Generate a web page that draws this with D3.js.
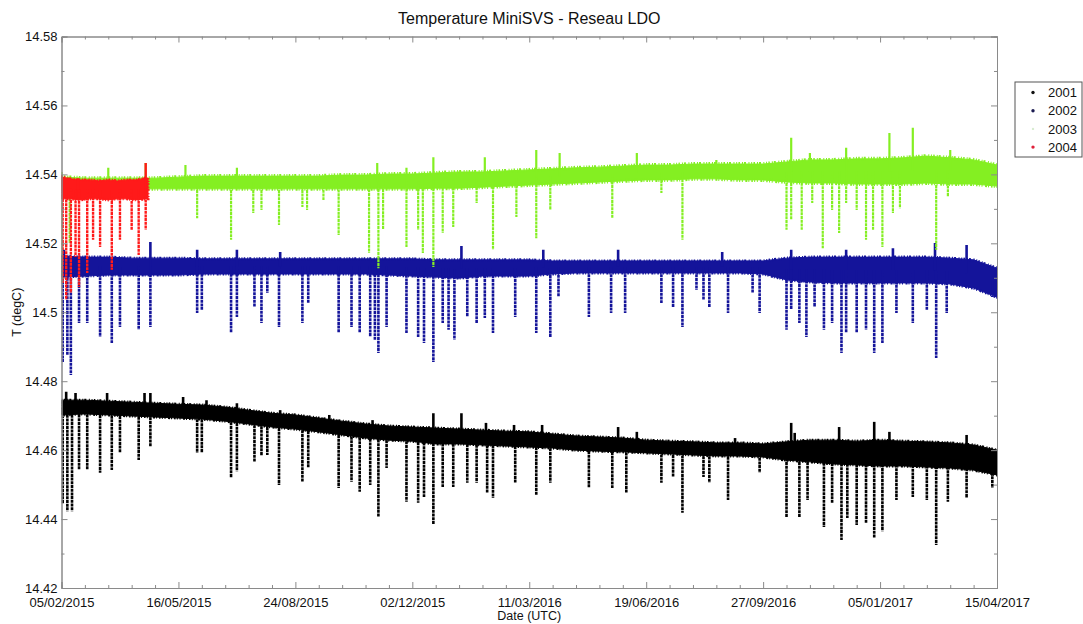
<!DOCTYPE html>
<html><head><meta charset="utf-8">
<script src="https://cdn.jsdelivr.net/npm/d3@7"></script>
<style>
body{margin:0;background:#fff}
svg{display:block}
text{font-family:"Liberation Sans",Arial,Helvetica,sans-serif}
</style>
</head><body>
<svg id="chart" width="1083" height="624"></svg>
<script>
// ---------------- data ----------------
const startDate = "05/02/2015";
const xTickLabels = ["05/02/2015","16/05/2015","24/08/2015","02/12/2015","11/03/2016","19/06/2016","27/09/2016","05/01/2017","15/04/2017"];
const yTickValues = [14.42,14.44,14.46,14.48,14.50,14.52,14.54,14.56,14.58];
const seriesNames = ["2001","2002","2003","2004"];
const seriesColors = ["#000000","#14149a","#84ef22","#ff1a1a"];

// days since 05/02/2015 at which the band envelope was read
const envelopeDays = [0,20,40,60,80,100,120,140,160,180,200,220,240,260,280,300,320,340,360,380,400,420,440,460,480,500,520,540,560,580,600,620,640,660,680,700,720,740,760,780,800];

// 2001 band (upper / lower edge, degC)
const upper2001 = [14.4745,14.4745,14.4742,14.4739,14.4736,14.4733,14.4731,14.4725,14.4716,14.4707,14.4702,14.4693,14.4684,14.4676,14.4670,14.4667,14.4664,14.4661,14.4658,14.4655,14.4653,14.4647,14.4641,14.4638,14.4635,14.4629,14.4626,14.4624,14.4621,14.4621,14.4618,14.4624,14.4629,14.4629,14.4626,14.4629,14.4626,14.4624,14.4621,14.4615,14.4600];
const lower2001 = [14.4702,14.4705,14.4702,14.4699,14.4696,14.4693,14.4690,14.4684,14.4676,14.4667,14.4661,14.4653,14.4644,14.4635,14.4629,14.4626,14.4618,14.4618,14.4615,14.4612,14.4609,14.4606,14.4600,14.4597,14.4595,14.4592,14.4589,14.4586,14.4583,14.4583,14.4580,14.4571,14.4566,14.4560,14.4557,14.4554,14.4554,14.4551,14.4548,14.4542,14.4528];
// 2002 band
const upper2002 = [14.5163,14.5160,14.5160,14.5157,14.5157,14.5157,14.5155,14.5155,14.5155,14.5155,14.5155,14.5155,14.5155,14.5155,14.5155,14.5155,14.5152,14.5152,14.5152,14.5152,14.5152,14.5149,14.5149,14.5149,14.5149,14.5149,14.5149,14.5149,14.5149,14.5149,14.5149,14.5157,14.5160,14.5160,14.5160,14.5160,14.5160,14.5160,14.5157,14.5152,14.5128];
const lower2002 = [14.5102,14.5105,14.5108,14.5108,14.5108,14.5108,14.5111,14.5111,14.5111,14.5111,14.5111,14.5111,14.5111,14.5111,14.5108,14.5105,14.5102,14.5099,14.5105,14.5105,14.5105,14.5111,14.5114,14.5114,14.5114,14.5114,14.5114,14.5114,14.5114,14.5114,14.5111,14.5094,14.5088,14.5085,14.5085,14.5085,14.5085,14.5085,14.5082,14.5070,14.5044];
// 2003 band
const upper2003 = [14.5392,14.5389,14.5389,14.5389,14.5389,14.5392,14.5395,14.5395,14.5395,14.5395,14.5395,14.5395,14.5398,14.5398,14.5401,14.5401,14.5404,14.5407,14.5407,14.5410,14.5413,14.5416,14.5419,14.5421,14.5424,14.5427,14.5427,14.5430,14.5430,14.5430,14.5430,14.5436,14.5442,14.5442,14.5445,14.5445,14.5448,14.5453,14.5448,14.5442,14.5427];
const lower2003 = [14.5358,14.5358,14.5358,14.5358,14.5358,14.5358,14.5358,14.5358,14.5358,14.5358,14.5358,14.5358,14.5358,14.5358,14.5358,14.5358,14.5360,14.5360,14.5363,14.5366,14.5369,14.5372,14.5375,14.5378,14.5381,14.5384,14.5384,14.5387,14.5387,14.5384,14.5384,14.5378,14.5375,14.5375,14.5372,14.5372,14.5372,14.5375,14.5372,14.5372,14.5366];
// 2004 band (only the first weeks)
const envelopeDays2004 = [0,8,16,24,32,40,48,56,64,72,74];
const upper2004 = [14.5392,14.5387,14.5384,14.5384,14.5381,14.5384,14.5381,14.5384,14.5384,14.5389,14.5389];
const lower2004 = [14.5329,14.5329,14.5326,14.5329,14.5329,14.5326,14.5329,14.5329,14.5326,14.5329,14.5329];

// drops below the band: [day, lowest value]
const drops2001 = [[1,14.4444],[5,14.4423],[9,14.4423],[15,14.4542],[22,14.4542],[33,14.4534],[43,14.4542],[50,14.4592],[66,14.4571],[76,14.4609],[116,14.4592],[120,14.4592],[145,14.4519],[150,14.4539],[165,14.4566],[171,14.4583],[176,14.4586],[186,14.4499],[206,14.4508],[211,14.4548],[237,14.4490],[248,14.4508],[255,14.4479],[264,14.4499],[271,14.4406],[278,14.4548],[295,14.4450],[305,14.4447],[310,14.4464],[318,14.4386],[326,14.4493],[335,14.4493],[347,14.4505],[355,14.4505],[364,14.4476],[369,14.4461],[388,14.4505],[406,14.4470],[418,14.4505],[451,14.4490],[471,14.4490],[483,14.4476],[513,14.4505],[523,14.4522],[531,14.4418],[549,14.4522],[554,14.4505],[570,14.4455],[597,14.4534],[620,14.4406],[631,14.4406],[638,14.4455],[652,14.4377],[659,14.4447],[667,14.4339],[672,14.4403],[680,14.4383],[688,14.4389],[695,14.4345],[702,14.4365],[714,14.4455],[728,14.4464],[740,14.4455],[748,14.4325],[758,14.4450],[774,14.4461],[796,14.4490]];
const drops2002 = [[1,14.4856],[5,14.4876],[8,14.4818],[15,14.4969],[22,14.4969],[33,14.4928],[43,14.4911],[50,14.4957],[66,14.4949],[76,14.4957],[116,14.4998],[120,14.5007],[145,14.4940],[150,14.4986],[165,14.5015],[171,14.4969],[176,14.5056],[186,14.4957],[206,14.4969],[211,14.5027],[237,14.4940],[248,14.4957],[255,14.4940],[264,14.4928],[268,14.4920],[271,14.4882],[278,14.4957],[295,14.4940],[305,14.4928],[310,14.4911],[318,14.4856],[326,14.4969],[331,14.4949],[336,14.4920],[347,14.4986],[355,14.4969],[362,14.4983],[369,14.4940],[388,14.4986],[406,14.4940],[418,14.4928],[425,14.5044],[451,14.4986],[470,14.4998],[482,14.4998],[513,14.5027],[523,14.5015],[531,14.4957],[543,14.5065],[549,14.5036],[554,14.5015],[570,14.4998],[591,14.5056],[597,14.4998],[620,14.4949],[624,14.5007],[631,14.4969],[637,14.4928],[644,14.5015],[652,14.4949],[659,14.4969],[667,14.4882],[671,14.4940],[680,14.4940],[688,14.4949],[695,14.4882],[702,14.4911],[714,14.4998],[728,14.4969],[740,14.5007],[748,14.4867],[757,14.4998],[796,14.5044]];
const drops2003 = [[0,14.5088],[7,14.5201],[116,14.5273],[145,14.5210],[164,14.5288],[171,14.5297],[186,14.5253],[206,14.5305],[210,14.5297],[224,14.5326],[237,14.5224],[263,14.5172],[271,14.5128],[275,14.5239],[295,14.5189],[305,14.5239],[309,14.5172],[318,14.5131],[326,14.5230],[335,14.5247],[355,14.5317],[369,14.5181],[389,14.5276],[406,14.5215],[418,14.5297],[471,14.5273],[513,14.5346],[531,14.5210],[620,14.5239],[624,14.5268],[633,14.5239],[642,14.5317],[651,14.5186],[659,14.5297],[665,14.5230],[671,14.5317],[680,14.5297],[688,14.5210],[694,14.5239],[702,14.5189],[711,14.5288],[717,14.5302],[748,14.5181],[758,14.5334]];
const drops2004 = [[1,14.5085],[4,14.5036],[8,14.5056],[12,14.5160],[15,14.5073],[22,14.5114],[27,14.5210],[33,14.5189],[43,14.5123],[50,14.5210],[60,14.5239],[66,14.5166],[72,14.5239]];

// peaks above the band: [day, highest value]
const peaks2001 = [[4,14.4769],[12,14.4766],[39,14.4766],[71,14.4766],[76,14.4766],[104,14.4754],[124,14.4745],[150,14.4736],[187,14.4716],[229,14.4702],[266,14.4687],[318,14.4707],[342,14.4707],[363,14.4679],[387,14.4673],[411,14.4673],[476,14.4667],[492,14.4653],[576,14.4635],[624,14.4679],[627,14.4650],[665,14.4667],[695,14.4682],[708,14.4653],[774,14.4644]];
const peaks2002 = [[2,14.5181],[76,14.5204],[116,14.5181],[150,14.5181],[187,14.5175],[342,14.5192],[412,14.5181],[476,14.5181],[565,14.5175],[624,14.5181],[671,14.5181],[711,14.5186],[747,14.5201],[774,14.5195]];
const peaks2003 = [[0,14.5407],[40,14.5419],[72,14.5433],[106,14.5427],[150,14.5419],[270,14.5433],[295,14.5419],[318,14.5450],[362,14.5450],[406,14.5471],[426,14.5462],[492,14.5462],[560,14.5442],[624,14.5506],[640,14.5462],[671,14.5477],[708,14.5520],[728,14.5535],[760,14.5471]];
const peaks2004 = [[0,14.5398],[14,14.5389],[72,14.5433]];

// ---------------- drawing ----------------
const W = 1083, H = 624;
const plot = {left: 61.5, right: 997, top: 36.5, bottom: 588};
const parseD = d3.utcParse("%d/%m/%Y");
const fmtD = d3.utcFormat("%d/%m/%Y");
const t0 = parseD(startDate);
const dayDate = n => d3.utcDay.offset(t0, n);

const x = d3.scaleUtc().domain([parseD(xTickLabels[0]), parseD(xTickLabels[xTickLabels.length-1])]).range([plot.left, plot.right]);
const y = d3.scaleLinear().domain([yTickValues[0], yTickValues[yTickValues.length-1]]).range([plot.bottom, plot.top]);

const svg = d3.select("#chart");
svg.append("rect").attr("width", W).attr("height", H).attr("fill", "#fff");

svg.append("defs").append("clipPath").attr("id", "clip")
  .append("rect").attr("x", plot.left).attr("y", plot.top)
  .attr("width", plot.right - plot.left).attr("height", plot.bottom - plot.top);

const dataG = svg.append("g").attr("clip-path", "url(#clip)");

function drawSeries(color, days, upper, lower, drops, peaks, w, fuzz) {
  const g = dataG.append("g");
  const band = days.map((d, i) => ({date: dayDate(d), hi: upper[i], lo: lower[i]}));
  const area = d3.area().x(d => x(d.date)).y0(d => y(d.lo)).y1(d => y(d.hi));
  g.append("path").datum(band).attr("d", area)
    .attr("fill", color).attr("stroke", color).attr("stroke-width", 1);
  // dotted outline of the band to render its scattered-marker edge
  g.append("path").datum(band).attr("d", area)
    .attr("fill", "none").attr("stroke", color).attr("stroke-width", fuzz)
    .attr("stroke-dasharray", "1,1.3,1.5,2,1,1,2,2.5,1,1.7");
  const loAt = d3.scaleLinear().domain(days).range(lower).clamp(true);
  const hiAt = d3.scaleLinear().domain(days).range(upper).clamp(true);
  g.selectAll("line.drop").data(drops).join("line").attr("class", "drop")
    .attr("x1", d => x(dayDate(d[0]))).attr("x2", d => x(dayDate(d[0])))
    .attr("y1", d => y((loAt(d[0]) + hiAt(d[0])) / 2)).attr("y2", d => y(d[1]))
    .attr("stroke", color).attr("stroke-width", w).attr("stroke-dasharray", "3,0.7");
  g.selectAll("line.peak").data(peaks).join("line").attr("class", "peak")
    .attr("x1", d => x(dayDate(d[0]))).attr("x2", d => x(dayDate(d[0])))
    .attr("y1", d => y((loAt(d[0]) + hiAt(d[0])) / 2)).attr("y2", d => y(d[1]))
    .attr("stroke", color).attr("stroke-width", w);
}

drawSeries(seriesColors[0], envelopeDays, upper2001, lower2001, drops2001, peaks2001, 2.6, 3);
drawSeries(seriesColors[1], envelopeDays, upper2002, lower2002, drops2002, peaks2002, 2.6, 3);
drawSeries(seriesColors[2], envelopeDays, upper2003, lower2003, drops2003, peaks2003, 2.2, 4);
drawSeries(seriesColors[3], envelopeDays2004, upper2004, lower2004, drops2004, peaks2004, 2.4, 3);

// ---------------- axes ----------------
const axisColor = "#8a8a8a";
const majorX = xTickLabels.map(parseD);
const minorX = d3.utcDay.range(majorX[0], majorX[majorX.length-1], 20).filter(d => !majorX.some(m => +m === +d));
const minorY = yTickValues.slice(0, -1).map((v, i) => (v + yTickValues[i+1]) / 2);

function styleAxis(g) {
  g.select(".domain").attr("stroke", axisColor);
  g.selectAll(".tick line").attr("stroke", axisColor);
  g.selectAll(".tick text").attr("fill", "#111").style("font-size", "13px")
    .style("font-family", '"Liberation Sans",Arial,sans-serif');
}

// bottom
svg.append("g").attr("transform", `translate(0,${plot.bottom})`)
  .call(d3.axisBottom(x).tickValues(minorX).tickSize(-3).tickFormat(""))
  .call(styleAxis);
svg.append("g").attr("transform", `translate(0,${plot.bottom})`)
  .call(d3.axisBottom(x).tickValues(majorX).tickSize(-6).tickPadding(10).tickFormat(fmtD))
  .call(styleAxis);
// top
svg.append("g").attr("transform", `translate(0,${plot.top})`)
  .call(d3.axisTop(x).tickValues(minorX).tickSize(-3).tickFormat(""))
  .call(styleAxis);
svg.append("g").attr("transform", `translate(0,${plot.top})`)
  .call(d3.axisTop(x).tickValues(majorX).tickSize(-6).tickFormat(""))
  .call(styleAxis);
// left
svg.append("g").attr("transform", `translate(${plot.left},0)`)
  .call(d3.axisLeft(y).tickValues(minorY).tickSize(-3).tickFormat(""))
  .call(styleAxis);
svg.append("g").attr("transform", `translate(${plot.left},0)`)
  .call(d3.axisLeft(y).tickValues(yTickValues).tickSize(-6).tickPadding(4).tickFormat(d => String(+d.toFixed(2))))
  .call(styleAxis);
// right
svg.append("g").attr("transform", `translate(${plot.right},0)`)
  .call(d3.axisRight(y).tickValues(minorY).tickSize(-3).tickFormat(""))
  .call(styleAxis);
svg.append("g").attr("transform", `translate(${plot.right},0)`)
  .call(d3.axisRight(y).tickValues(yTickValues).tickSize(-6).tickFormat(""))
  .call(styleAxis);

// ---------------- titles ----------------
const cx = (plot.left + plot.right) / 2;
svg.append("text").attr("x", cx).attr("y", 24).attr("text-anchor", "middle")
  .style("font-size", "16px").attr("fill", "#111").text("Temperature MiniSVS - Reseau LDO");
svg.append("text").attr("x", cx).attr("y", 620).attr("text-anchor", "middle")
  .style("font-size", "12.5px").attr("fill", "#111").text("Date (UTC)");
svg.append("text").attr("transform", `translate(21,${(plot.top + plot.bottom) / 2}) rotate(-90)`)
  .attr("text-anchor", "middle").style("font-size", "12.5px").attr("fill", "#111").text("T (degC)");

// ---------------- legend ----------------
const leg = svg.append("g").attr("transform", "translate(1015,82)");
leg.append("rect").attr("width", 67).attr("height", 75).attr("fill", "#fff").attr("stroke", "#555").attr("stroke-width", 1);
const legColors = ["#111", "#1a1a50", "#d8ecd0", "#e0203a"];
seriesNames.forEach((name, i) => {
  const yy = 10.5 + i * 18.2;
  leg.append("circle").attr("cx", 18).attr("cy", yy).attr("r", i === 2 ? 1.2 : 1.7).attr("fill", legColors[i]);
  leg.append("text").attr("x", 33).attr("y", yy + 4.6).style("font-size", "13px").attr("fill", "#111").text(name);
});
</script>
</body></html>
